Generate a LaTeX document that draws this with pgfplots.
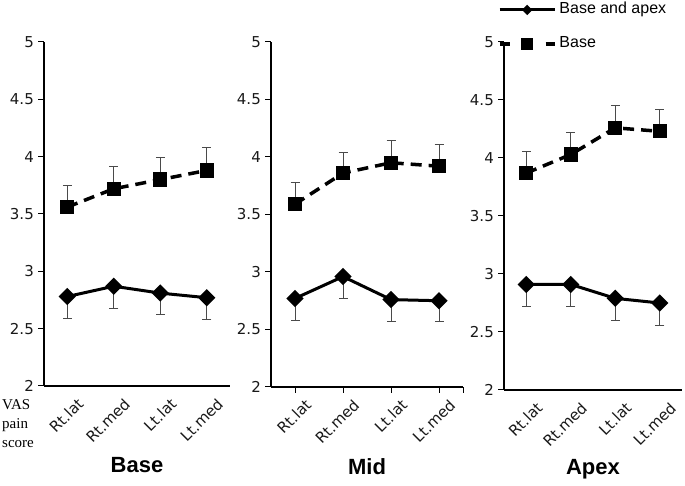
\documentclass[border=0pt]{standalone}
\usepackage{fontspec}
\setmainfont{DejaVu Sans}
\newfontfamily\arialfont{Liberation Sans}
\newfontfamily\timesfont{Liberation Serif}
\usepackage{pgfplots}
\pgfplotsset{compat=1.18}

\definecolor{errgray}{HTML}{4A4A4A}

\pgfplotsset{
  panel/.style={
    scale only axis, anchor=south west, clip=false,
    xmin=0.5, xmax=4.5, ymin=2, ymax=5,
    axis lines*=left,
    axis line style={black, line width=1.1pt},
    ytick={2,2.5,3,3.5,4,4.5,5},
    xtick={1,2,3,4},
    xticklabels={Rt.lat,Rt.med,Lt.lat,Lt.med},
    tick align=outside,
    major tick length=6pt, minor tick length=6pt,
    every tick/.style={black, line width=1pt},
    ticklabel style={font=\fontsize{15}{18}\selectfont, text=black!90},
    xticklabel style={rotate=45, anchor=north east, inner sep=1pt, yshift=-9pt, xshift=4pt},
    yticklabel style={inner sep=2pt, xshift=-2pt},
    /pgf/number format/assume math mode=true,
  },
  edges/.style={xtick style={draw=none}, minor xtick={0.5,1.5,2.5,3.5,4.5}},
  both/.style={
    black, line width=3pt, solid,
    mark=square*, mark size=4.6pt, mark options={rotate=45, solid},
    error bars/.cd, y dir=minus, y explicit,
    error bar style={line width=1pt, errgray, solid},
    error mark options={rotate=90, line width=1pt, mark size=4.5pt, errgray, solid},
  },
  base/.style={
    black, line width=3.5pt, dash pattern=on 11pt off 7pt,
    mark=square*, mark size=5.4pt, mark options={solid},
    error bars/.cd, y dir=plus, y explicit,
    error bar style={line width=1pt, errgray, solid},
    error mark options={rotate=90, line width=1pt, mark size=4.5pt, errgray, solid},
  },
}

\begin{document}
\begin{tikzpicture}
\useasboundingbox (0pt,0pt) rectangle (685pt,486pt);

% Base
\begin{axis}[panel, edges, at={(44pt,100pt)}, width=186pt, height=344pt]
\addplot+[base] coordinates {(1,3.56) +- (0,0.19) (2,3.72) +- (0,0.19) (3,3.80) +- (0,0.19) (4,3.88) +- (0,0.20)};
\addplot+[both] coordinates {(1,2.78) +- (0,0.19) (2,2.87) +- (0,0.19) (3,2.81) +- (0,0.19) (4,2.77) +- (0,0.19)};
\end{axis}

% Mid
\begin{axis}[panel, minor xtick={4.5}, at={(271pt,99pt)}, width=192pt, height=345pt]
\addplot+[base] coordinates {(1,3.59) +- (0,0.19) (2,3.86) +- (0,0.18) (3,3.95) +- (0,0.19) (4,3.92) +- (0,0.19)};
\addplot+[both] coordinates {(1,2.77) +- (0,0.19) (2,2.96) +- (0,0.19) (3,2.76) +- (0,0.19) (4,2.75) +- (0,0.18)};
\end{axis}

% Apex
\begin{axis}[panel, edges, at={(504pt,96pt)}, width=178pt, height=348pt,
  legend image code/.code={\draw[mark repeat=2, mark phase=2, #1] plot coordinates {(0pt,0pt) (27.5pt,0pt) (55pt,0pt)};},
  legend style={at={(rel axis cs:-0.034,1.115)}, anchor=north west, draw=none, fill=none,
    inner sep=0pt, outer sep=0pt, row sep=18pt, legend cell align=left,
    font=\arialfont\fontsize{16}{19}\selectfont,
    nodes={inner sep=0pt, text height=12pt, text depth=4pt}},
]
\addlegendimage{black, line width=3pt, mark=square*, mark size=2.2pt, mark options={rotate=45}}
\addlegendentry{\hspace{3pt}Base and apex}
\addlegendimage{black, line width=3.5pt, dash pattern=on 10pt off 13pt, mark=square*, mark size=4.4pt, mark options={solid}}
\addlegendentry{\hspace{3pt}Base}
\addplot+[forget plot, base] coordinates {(1,3.87) +- (0,0.19) (2,4.03) +- (0,0.19) (3,4.26) +- (0,0.19) (4,4.23) +- (0,0.19)};
\addplot+[forget plot, both] coordinates {(1,2.91) +- (0,0.19) (2,2.91) +- (0,0.19) (3,2.79) +- (0,0.19) (4,2.75) +- (0,0.19)};
\end{axis}

% panel titles
\node[anchor=base, font=\arialfont\bfseries\fontsize{22}{26}\selectfont] at (137pt,13pt) {Base};
\node[anchor=base, font=\arialfont\bfseries\fontsize{22}{26}\selectfont] at (367pt,11pt) {Mid};
\node[anchor=base, font=\arialfont\bfseries\fontsize{22}{26}\selectfont] at (593pt,11pt) {Apex};

% y label
\node[anchor=base west, inner sep=0pt, font=\timesfont\fontsize{15}{18}\selectfont] at (2pt,76pt) {VAS};
\node[anchor=base west, inner sep=0pt, font=\timesfont\fontsize{15}{18}\selectfont] at (2pt,57.5pt) {pain};
\node[anchor=base west, inner sep=0pt, font=\timesfont\fontsize{15}{18}\selectfont] at (2pt,38pt) {score};
\end{tikzpicture}
\end{document}
